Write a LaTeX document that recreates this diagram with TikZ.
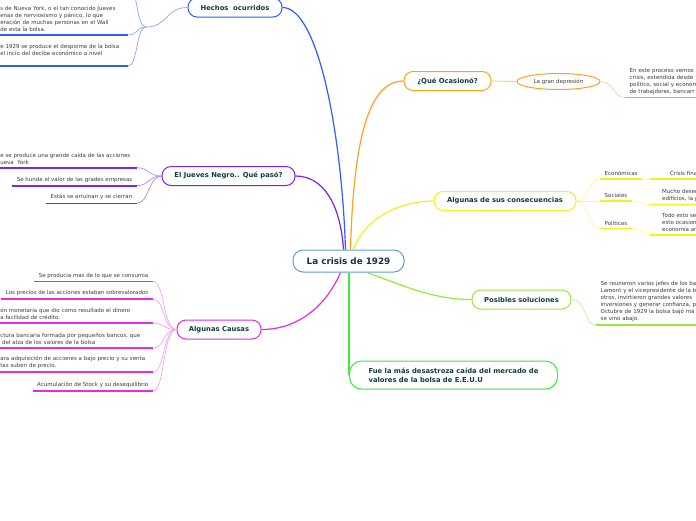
\documentclass[tikz,border=0pt]{standalone}
\usepackage{fontspec}
\setmainfont{DejaVu Sans}
\usepackage{tikz}
\usetikzlibrary{shapes.geometric, positioning}

\definecolor{nodetext}{HTML}{123C3C}
\definecolor{leaftext}{HTML}{3C3C3C}
\definecolor{rootblue}{HTML}{5AA0D8}
\definecolor{roottext}{HTML}{1B2B4B}
\definecolor{hechosblue}{HTML}{2F5BFF}
\definecolor{hechoslight}{HTML}{8AA6FF}
\definecolor{juevespurple}{HTML}{7A22F5}
\definecolor{jueveslight}{HTML}{B08CFF}
\definecolor{causasmag}{HTML}{E52BE5}
\definecolor{causaslight}{HTML}{F3A3F3}
\definecolor{ocasorange}{HTML}{FFA11F}
\definecolor{ocaslight}{HTML}{FFD08A}
\definecolor{consyellow}{HTML}{F2F21A}
\definecolor{conslight}{HTML}{FAFA8C}
\definecolor{solulime}{HTML}{99E83A}
\definecolor{sololight}{HTML}{C6F28F}
\definecolor{fuegreen}{HTML}{3CEB3C}

\begin{document}
\begin{tikzpicture}[x=1pt, y=-1pt,
            root/.style  ={rectangle, rounded corners=10pt, draw=rootblue, line width=1pt, fill=white,
                           text=roottext, font=\fontsize{8.8}{10}\selectfont\bfseries,
                           minimum width=111pt, minimum height=22pt},
            topic/.style ={rectangle, rounded corners=9pt, line width=1pt, fill=white,
                           text=nodetext, font=\fontsize{6.8}{9}\selectfont\bfseries, minimum height=19pt},
            leaf/.style  ={font=\fontsize{5.5}{7}\selectfont, text=leaftext, align=left,
                           inner xsep=4.5pt, inner ysep=3pt},
            branch/.style={line width=1.2pt},
            twig/.style  ={line width=0.7pt},
            uline/.style ={line width=1.6pt}
        ]
            \useasboundingbox (0,0) rectangle (696,520);
            \clip (0,0) rectangle (696,520);
            \fill[white] (0,0) rectangle (696,520);

            % --- Nodo central y temas ---
            \node[root] (crisis) at (348.5,261) {La crisis de 1929};
            \node[topic, draw=hechosblue,   minimum width=94pt]  (hechos)   at (235,7.5)     {Hechos\ \ ocurridos};
            \node[topic, draw=juevespurple, minimum width=133pt] (jueves)   at (228.5,176)   {El Jueves Negro.. Qué pasó?};
            \node[topic, draw=causasmag,    minimum width=84pt]  (causas)   at (219,329.5)   {Algunas Causas};
            \node[topic, draw=ocasorange,   minimum width=87pt]  (ocasiono) at (447.5,81)    {¿Qué Ocasionó?};
            \node[topic, draw=consyellow,   minimum width=142pt] (consec)   at (505,201)     {Algunas de sus consecuencias};
            \node[topic, draw=solulime,     minimum width=99pt]  (soluc)    at (521.5,299.5) {Posibles soluciones};
            \node[topic, draw=fuegreen, anchor=west, align=left, minimum width=208pt,
                  minimum height=28pt, rounded corners=12pt] (fue) at (349,375)
                  {Fue la más desastroza caída del mercado de\\ valores de la bolsa de E.E.U.U};

            % --- Hechos ocurridos ---
            \node[leaf, anchor=south east, text width=123pt] (h1) at (128,35)
                  {s de Nueva York, o el tan conocido Jueves\\ enas de nerviosismo y pánico, lo que\\ eración de muchas personas en el Wall\\ de esta la bolsa.};
            \node[leaf, anchor=south east, text width=123pt] (h2) at (128,66)
                  {e 1929 se produce el despoime de la bolsa\\ el incio del decibe económico a nivel\\ \mbox{}};
            \coordinate (hj) at (146,27);
            \coordinate (h0) at (128,-14);

            % --- El Jueves Negro ---
            \node[leaf, anchor=south east, text width=132pt] (j1) at (137,167.7)
                  {e se produce una grande caída de las acciones\\ ueva\ \ York};
            \node[leaf, anchor=south east] (j2) at (137,185.7) {Se hunde el valor de las grades empresas};
            \node[leaf, anchor=south east] (j3) at (137,203.3) {Estás se arruinan y se cierran};

            % --- Algunas Causas ---
            \node[leaf, anchor=south east] (c1) at (153,281.5) {Se producia mas de lo que se consumia};
            \node[leaf, anchor=south east] (c2) at (153,299) {Los precios de las acciones estaban sobrevalorados};
            \node[leaf, anchor=south east, text width=148pt] (c3) at (153,323)
                  {ón monetaria que dio como resultado el dinero\\ a facilidad de crédito.};
            \node[leaf, anchor=south east, text width=148pt] (c4) at (153,348)
                  {ctura bancaria formada por pequeños bancos, que\\ \ del alza de los valores de la bolsa};
            \node[leaf, anchor=south east, text width=148pt] (c5) at (153,372)
                  {ara adquisición de acciones a bajo precio y su venta\\ tas suben de precio.};
            \node[leaf, anchor=south east] (c6) at (153,391) {Acumulación de Stock y su desequilibrio};

            % --- Qué ocasionó ---
            \node[ellipse, draw=ocasorange, line width=1pt, fill=white, text=leaftext,
                  font=\fontsize{5.5}{7}\selectfont, minimum width=83pt, minimum height=16pt,
                  inner sep=0pt] (depresion) at (558.5,81.5) {La gran depresión};
            \node[leaf, anchor=south west, text width=100pt] (o1) at (625,97.5)
                  {En este proceso vemos\\ crisis, extendida desde\\ político, social y económ\\ de trabajdores, bancarr};

            % --- Consecuencias ---
            \node[leaf, anchor=south west] (e1) at (600,179) {Económicas};
            \node[leaf, anchor=south west, inner xsep=20pt] (e2) at (650,179) {Crisis fina};
            \node[leaf, anchor=south west] (s1) at (600,201) {Sociales};
            \node[leaf, anchor=south west, inner xsep=12pt] (s2) at (650,204.5) {Mucho desem\\ edificios, la p};
            \node[leaf, anchor=south west] (p1) at (600,228.5) {Políticas};
            \node[leaf, anchor=south west, inner xsep=12pt] (p2) at (650,235) {Todo esto se\\ esto ocasion\\ economía am};

            % --- Posibles soluciones ---
            \node[leaf, anchor=south west, text width=100pt] (sol1) at (596,325)
                  {Se reunieron varios jefes de los ba\\ Lamont y el vicepresidente de la b\\ otros, invirtieron grandes valores\\ inversiones y generar confianza, pa\\ Octubre de 1929 la bolsa bajó má\\ se vino abajo.};

            % --- Enlaces principales ---
            \draw[branch, hechosblue]   ([xshift=-3pt]crisis.north) .. controls +(-4,-120) and +(35,0) .. (hechos.east);
            \draw[branch, juevespurple] ([xshift=-5pt]crisis.north) .. controls +(-3,-45) and +(28,0) .. (jueves.east);
            \draw[branch, ocasorange]   ([xshift=2pt]crisis.north) .. controls +(3,-110) and +(-35,0) .. (ocasiono.west);
            \draw[branch, consyellow]   ([xshift=5pt]crisis.north) .. controls +(10,-30) and +(-35,0) .. (consec.west);
            \draw[branch, causasmag]    ([xshift=-8pt]crisis.south) .. controls +(-15,35) and +(35,0) .. (causas.east);
            \draw[branch, solulime]     ([xshift=18pt]crisis.south) .. controls +(35,12) and +(-40,0) .. (soluc.west);
            \draw[branch, fuegreen]     (fue.west |- crisis.south) -- (fue.west);

            % --- Ramas secundarias ---
            \draw[twig, hechoslight] (hechos.west) .. controls +(-22,0) and +(22,0) .. (hj);
            \foreach \n in {h1,h2,h0}
                \draw[twig, hechoslight] (hj) .. controls +(-10,0) and +(10,0) .. (\n.south east);
            \foreach \n in {j1,j2,j3}
                \draw[twig, jueveslight] (jueves.west) .. controls +(-13,0) and +(12,0) .. (\n.south east);
            \foreach \n in {c1,c2,c3,c4,c5,c6}
                \draw[twig, causaslight] (causas.west) .. controls +(-14,0) and +(12,0) .. (\n.south east);
            \draw[twig, ocaslight, line width=1pt] (ocasiono.east) -- (depresion.west);
            \draw[twig, ocaslight] (depresion.east) .. controls +(14,0) and +(-12,0) .. (o1.south west);
            \foreach \n in {e1,s1,p1}
                \draw[twig, conslight] (consec.east) .. controls +(12,0) and +(-12,0) .. (\n.south west);
            \draw[twig, conslight] (e1.south east) -- (e2.south west);
            \draw[twig, conslight] (s1.south east) .. controls +(10,0) and +(-8,0) .. (s2.south west);
            \draw[twig, conslight] (p1.south east) .. controls +(10,0) and +(-8,0) .. (p2.south west);
            \draw[twig, sololight] (soluc.east) .. controls +(15,0) and +(-12,0) .. (sol1.south west);

            % --- Subrayados ---
            \foreach \n in {h1,h2}
                \draw[uline, hechosblue] (\n.south west) -- (\n.south east);
            \foreach \n in {j1,j2,j3}
                \draw[uline, juevespurple] (\n.south west) -- (\n.south east);
            \foreach \n in {c1,c2,c3,c4,c5,c6}
                \draw[uline, causasmag] (\n.south west) -- (\n.south east);
            \draw[uline, ocasorange] (o1.south west) -- (o1.south east);
            \foreach \n in {e1,e2,s1,s2,p1,p2}
                \draw[uline, consyellow] (\n.south west) -- (\n.south east);
            \draw[uline, solulime] (sol1.south west) -- (sol1.south east);
        \end{tikzpicture}
\end{document}
